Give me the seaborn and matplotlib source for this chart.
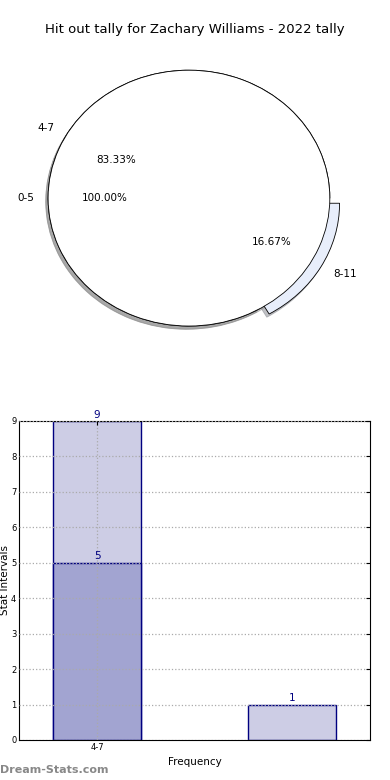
import matplotlib
matplotlib.use("Agg")
import matplotlib.pyplot as plt
import seaborn as sns
import pandas as pd

# pie data
outer_labels = ["4-7", "8-11"]
outer_values = [5, 1]
outer_explode = [0, 0.08]
full_label = ["0-5"]
full_value = [1]

# bar data
bar_groups = ["4-7", "8-11"]
tally_total = [9, 1]
tally_part_groups = ["4-7"]
tally_part = [5]

title = "Hit out tally for Zachary Williams - 2022 tally"

sns.set_style("white")
plt.rcParams["font.family"] = ["DejaVu Sans"]
plt.rcParams["text.color"] = "black"
plt.rcParams["axes.labelcolor"] = "black"
plt.rcParams["xtick.color"] = "black"
plt.rcParams["ytick.color"] = "black"

fig = plt.figure(figsize=(3.9, 7.8), dpi=100)
fig.text(0.5, 0.962, title, ha="center", va="center", fontsize=9.5)

# --- pie ---
shadow = {"ox": -0.012, "oy": -0.018, "shade": 0.45}
ax_pie = fig.add_axes([0.033, 0.541, 0.903, 0.41])
ax_pie.pie(outer_values, labels=outer_labels, explode=outer_explode,
           autopct="%.2f%%", colors=["white", "#e8eefb"], shadow=shadow,
           wedgeprops={"edgecolor": "black", "linewidth": 0.6},
           textprops={"fontsize": 7.5})
ax_pie.pie(full_value, labels=full_label, autopct="%.2f%%",
           colors=["white"], shadow=shadow,
           wedgeprops={"edgecolor": "black", "linewidth": 0.6},
           textprops={"fontsize": 7.5})
ax_pie.set_aspect("auto")
ax_pie.set_xlim(-1.25, 1.25)
ax_pie.set_ylim(-1.25, 1.25)
ax_pie.axis("off")

# --- bars ---
ax = fig.add_axes([0.049, 0.0513, 0.9, 0.409])
df_total = pd.DataFrame({"group": bar_groups, "value": tally_total})
df_part = pd.DataFrame({"group": tally_part_groups, "value": tally_part})
sns.barplot(data=df_total, x="group", y="value", order=bar_groups, ax=ax,
            color="#cdcde5", saturation=1, width=0.45,
            edgecolor="navy", linewidth=1)
sns.barplot(data=df_part, x="group", y="value", order=bar_groups, ax=ax,
            color="#a2a4d1", saturation=1, width=0.45,
            edgecolor="navy", linewidth=1)
for cont in ax.containers:
    ax.bar_label(cont, padding=1, color="navy", fontsize=7.5)

ax.set_xlim(-0.4, 1.4)
ax.set_ylim(0, 9)
ax.set_yticks(range(0, 10))
ax.set_xticks([0])
ax.set_xticklabels(["4-7"])
ax.tick_params(axis="both", labelsize=6, direction="in", length=3,
               right=True, top=True, pad=2)
ax.grid(True, linestyle=":", color="#aaaaaa", linewidth=0.9)
ax.set_axisbelow(False)
for sp in ax.spines.values():
    sp.set_color("black")
    sp.set_linewidth(0.8)
ax.set_xlabel("Frequency", fontsize=7.5, labelpad=4)
ax.set_ylabel("Stat Intervals", fontsize=7.5, labelpad=1)

fig.text(0.0, 0.013, "Dream-Stats.com", color="#888888", fontsize=8,
         fontweight="bold", ha="left", va="center")

fig.savefig("out.png", dpi=100)
